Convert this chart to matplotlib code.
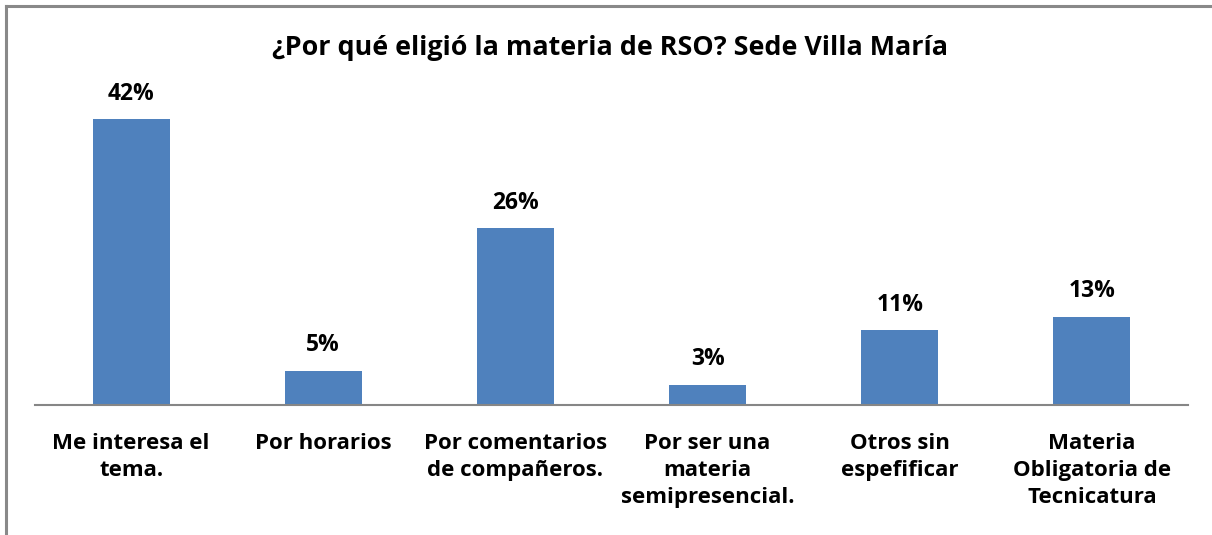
import matplotlib
matplotlib.use('Agg')
import matplotlib.pyplot as plt
from matplotlib.lines import Line2D

# --- Data ---
categories = [
    'Me interesa el\ntema.',
    'Por horarios',
    'Por comentarios\nde compañeros.',
    'Por ser una\nmateria\nsemipresencial.',
    'Otros sin\nespefificar',
    'Materia\nObligatoria de\nTecnicatura',
]
values = [42, 5, 26, 3, 11, 13]
title = '¿Por qué eligió la materia de RSO? Sede Villa María'

# --- Style ---
BAR = '#4F81BD'
FRAME = '#898989'
AXIS = '#868686'
FONT = 'Open Sans'

W, H = 1212, 535
fig = plt.figure(figsize=(W / 100, H / 100), dpi=100, facecolor='white')

# outer chart border (only top/left visible in the crop)
fig.add_artist(Line2D([5.5 / W, 5.5 / W], [0, 1 - 5.5 / H], color=FRAME, lw=2.2,
                      transform=fig.transFigure))
fig.add_artist(Line2D([5.5 / W, 1], [1 - 5.5 / H, 1 - 5.5 / H], color=FRAME, lw=2.2,
                      transform=fig.transFigure))

# plot area: x 35..1188, baseline y=405, 45% -> y ~99
left, right = 35 / W, 1188 / W
bottom = 1 - 405 / H
top = 1 - 99 / H
ax = fig.add_axes([left, bottom, right - left, top - bottom])
ax.set_facecolor('none')

x = range(len(categories))
bars = ax.bar(x, values, width=0.4, color=BAR, zorder=2)
ax.set_xlim(-0.5, len(categories) - 0.5)
ax.set_ylim(0, 45)

for b, v in zip(bars, values):
    ax.text(b.get_x() + b.get_width() / 2, v + 2.0, f'{v}%', ha='center', va='bottom',
            fontsize=16.5, fontweight='bold', family=FONT, color='black')

for s in ['top', 'right', 'left']:
    ax.spines[s].set_visible(False)
ax.spines['bottom'].set_color(AXIS)
ax.spines['bottom'].set_linewidth(1.5)
ax.set_yticks([])
ax.set_xticks(list(x))
ax.set_xticklabels(categories, fontsize=16, fontweight='bold', family=FONT,
                   linespacing=1.38, va='top')
ax.tick_params(axis='x', length=0, pad=20)

fig.text(610 / W, 1 - 48 / H, title, ha='center', va='center', fontsize=19.4,
         fontweight='bold', family=FONT)

fig.savefig('out.png', dpi=100, facecolor='white')
